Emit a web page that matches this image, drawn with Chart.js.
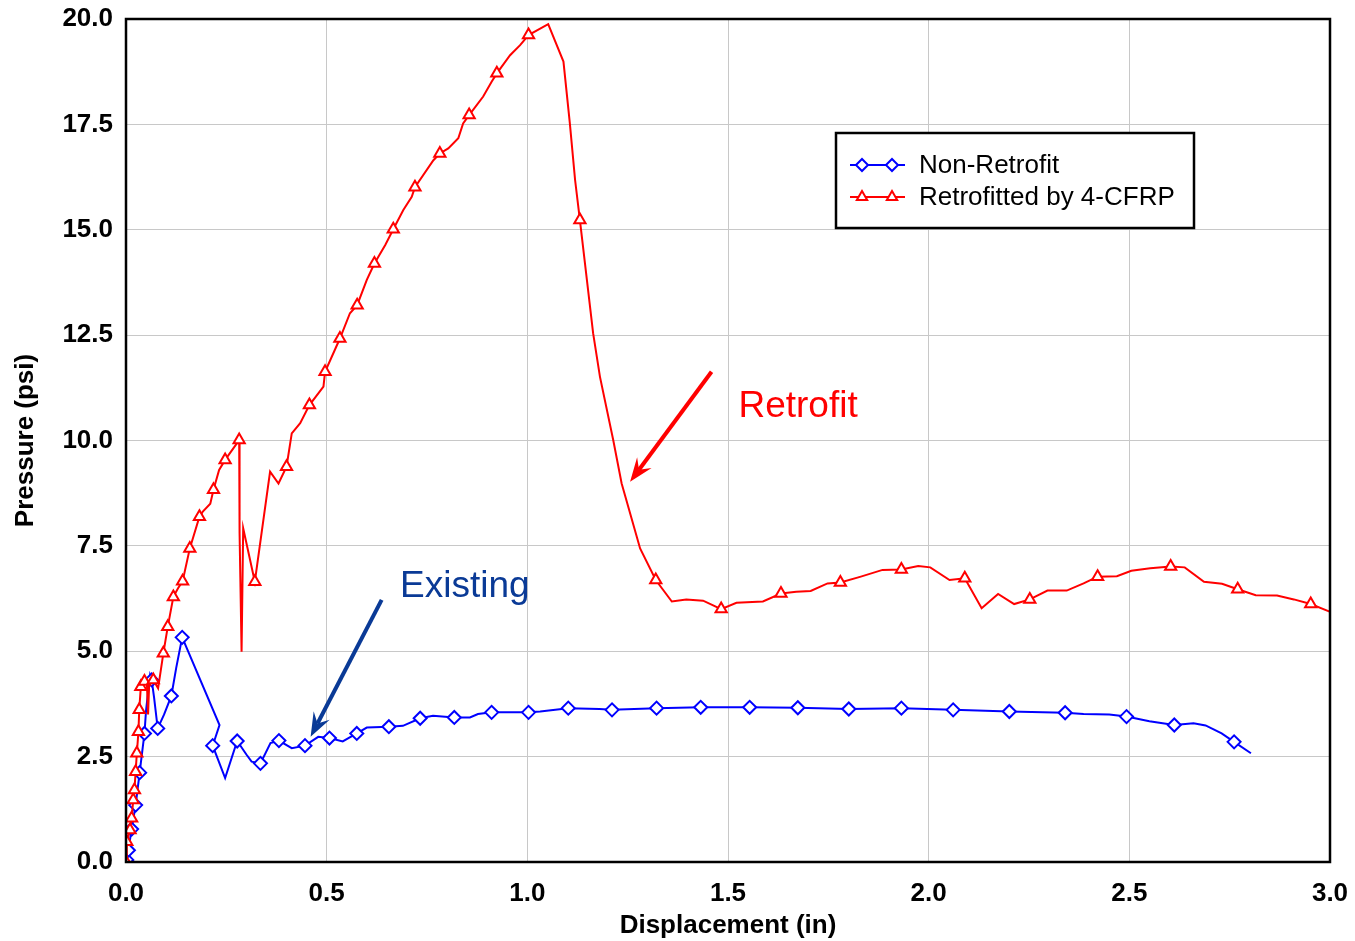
<!DOCTYPE html>
<html>
<head>
<meta charset="utf-8">
<script src="https://cdn.jsdelivr.net/npm/chart.js@4.4.1/dist/chart.umd.min.js"></script>
<style>
  html, body { margin: 0; padding: 0; background: #fff; }
  #wrap { width: 1355px; height: 941px; }
</style>
</head>
<body>
<div id="wrap"><canvas id="chart" width="1355" height="941"></canvas></div>
<script>
// Data
const seriesNames = ['Non-Retrofit', 'Retrofitted by 4-CFRP'];

// Non-Retrofit curve (displacement in, pressure psi)
const nonRetroX = [0.000, 0.002, 0.006, 0.014, 0.024, 0.034, 0.046, 0.050, 0.056, 0.060, 0.064, 0.070, 0.079, 0.095, 0.113, 0.125, 0.140,
  0.233, 0.216, 0.247, 0.277, 0.300, 0.313, 0.335, 0.360, 0.381, 0.413, 0.446, 0.479, 0.507, 0.540, 0.575, 0.600, 0.655, 0.690,
  0.733, 0.765, 0.818, 0.857, 0.877, 0.911, 1.003, 1.032, 1.102, 1.180, 1.211, 1.322, 1.432, 1.554, 1.674, 1.801, 1.932, 2.061,
  2.201, 2.340, 2.386, 2.450, 2.493, 2.550, 2.612, 2.660, 2.690, 2.730, 2.761, 2.803];
const nonRetroY = [0.00, 0.05, 0.28, 0.78, 1.35, 2.12, 3.05, 3.60, 4.10, 4.43, 4.32, 3.90, 3.17, 3.50, 3.94, 4.60, 5.33,
  3.25, 2.76, 1.99, 2.87, 2.55, 2.38, 2.34, 2.82, 2.88, 2.70, 2.76, 2.97, 2.94, 2.86, 3.05, 3.19, 3.21, 3.23,
  3.41, 3.47, 3.43, 3.43, 3.51, 3.55, 3.55, 3.57, 3.65, 3.63, 3.61, 3.65, 3.67, 3.67, 3.66, 3.63, 3.65, 3.61,
  3.57, 3.54, 3.51, 3.50, 3.45, 3.34, 3.25, 3.29, 3.24, 3.05, 2.85, 2.58];
// Non-Retrofit marker points
const nonRetroMarkX = [0.002, 0.006, 0.014, 0.024, 0.034, 0.046, 0.064, 0.079, 0.113, 0.140, 0.216, 0.277, 0.335, 0.381, 0.446,
  0.507, 0.575, 0.655, 0.733, 0.818, 0.911, 1.003, 1.102, 1.211, 1.322, 1.432, 1.554, 1.674, 1.801, 1.932, 2.061, 2.201, 2.340,
  2.493, 2.612, 2.761];
const nonRetroMarkY = [0.05, 0.28, 0.78, 1.35, 2.12, 3.05, 4.32, 3.17, 3.94, 5.33, 2.76, 2.87, 2.34, 2.88, 2.76,
  2.94, 3.05, 3.21, 3.41, 3.43, 3.55, 3.55, 3.65, 3.61, 3.65, 3.67, 3.67, 3.66, 3.63, 3.65, 3.61, 3.57, 3.54,
  3.45, 3.25, 2.85];

// Retrofitted curve
const retroX = [0.000, 0.002, 0.010, 0.014, 0.018, 0.021, 0.024, 0.027, 0.031, 0.033, 0.037, 0.046, 0.052, 0.055, 0.058, 0.068,
  0.080, 0.093, 0.104, 0.118, 0.130, 0.141, 0.159, 0.183, 0.192, 0.210, 0.218, 0.232, 0.247, 0.282, 0.283, 0.288, 0.290, 0.292,
  0.321, 0.359, 0.380, 0.400, 0.413, 0.434, 0.457, 0.492, 0.496, 0.533, 0.558, 0.576, 0.600, 0.619, 0.646, 0.666, 0.691, 0.712,
  0.720, 0.766, 0.782, 0.803, 0.828, 0.840, 0.855, 0.890, 0.911, 0.924, 0.957, 0.982, 1.003, 1.052, 1.090, 1.106, 1.119, 1.131,
  1.164, 1.181, 1.214, 1.235, 1.281, 1.320, 1.360, 1.396, 1.438, 1.483, 1.521, 1.587, 1.632, 1.670, 1.706, 1.748, 1.780, 1.831,
  1.885, 1.932, 1.974, 2.004, 2.052, 2.090, 2.132, 2.173, 2.213, 2.252, 2.296, 2.344, 2.386, 2.421, 2.469, 2.505, 2.552, 2.603,
  2.638, 2.686, 2.731, 2.770, 2.815, 2.868, 2.910, 2.952, 2.999];
const retroY = [0.00, 0.48, 0.76, 1.04, 1.47, 1.71, 2.14, 2.58, 3.09, 3.61, 4.16, 4.28, 4.25, 3.50, 4.30, 4.32,
  4.12, 4.95, 5.58, 6.29, 6.50, 6.66, 7.44, 8.19, 8.32, 8.50, 8.83, 9.30, 9.54, 10.01, 7.80, 4.99, 6.45, 7.92,
  6.65, 9.26, 8.98, 9.38, 10.17, 10.41, 10.84, 11.28, 11.63, 12.42, 13.02, 13.21, 13.81, 14.20, 14.64, 15.01, 15.47, 15.78,
  16.01, 16.65, 16.81, 16.93, 17.17, 17.52, 17.72, 18.16, 18.51, 18.71, 19.14, 19.38, 19.62, 19.88, 18.99, 17.52, 16.18, 15.23,
  12.54, 11.51, 10.01, 8.98, 7.44, 6.69, 6.18, 6.23, 6.20, 6.00, 6.15, 6.18, 6.37, 6.41, 6.43, 6.61, 6.63, 6.77,
  6.93, 6.94, 7.02, 6.99, 6.69, 6.73, 6.02, 6.36, 6.12, 6.23, 6.44, 6.44, 6.61, 6.77, 6.78, 6.91, 6.97, 7.01,
  6.99, 6.65, 6.60, 6.47, 6.33, 6.32, 6.23, 6.12, 5.94];
// Retrofitted marker points
const retroMarkX = [0.000, 0.002, 0.010, 0.014, 0.018, 0.021, 0.024, 0.027, 0.031, 0.033, 0.037, 0.046, 0.068, 0.093, 0.104,
  0.118, 0.141, 0.159, 0.183, 0.218, 0.247, 0.282, 0.321, 0.400, 0.457, 0.496, 0.533, 0.576, 0.619, 0.666, 0.720, 0.782, 0.855,
  0.924, 1.003, 1.131, 1.320, 1.483, 1.632, 1.780, 1.932, 2.090, 2.252, 2.421, 2.603, 2.770, 2.952];
const retroMarkY = [0.00, 0.48, 0.76, 1.04, 1.47, 1.71, 2.14, 2.58, 3.09, 3.61, 4.16, 4.28, 4.32, 4.95, 5.58,
  6.29, 6.66, 7.44, 8.19, 8.83, 9.54, 10.01, 6.65, 9.38, 10.84, 11.63, 12.42, 13.21, 14.20, 15.01, 16.01, 16.81, 17.72,
  18.71, 19.62, 15.23, 6.69, 6.00, 6.37, 6.63, 6.94, 6.73, 6.23, 6.77, 7.01, 6.47, 6.12];

// Callouts: text anchor and arrow (tail -> tip) in data units
const noteText = ['Retrofit', 'Existing'];
const noteX = [1.526, 0.683];
const noteY = [10.55, 6.29];
const arrowFromX = [1.459, 0.637];
const arrowFromY = [11.63, 6.22];
const arrowToX = [1.256, 0.460];
const arrowToY = [9.02, 2.97];

// Axis ticks
const xMin = 0, xMax = 3.0, xStep = 0.5;
const yMin = 0, yMax = 20.0, yStep = 2.5;

const BLUE = '#0000ff';
const RED = '#ff0000';
const noteColors = [RED, '#0a3a96'];

function pts(xs, ys) {
    return xs.map((x, i) => ({ x: x, y: ys[i] }));
}

// keep axis labels from pushing the plot area around
function noScalePadding(scale) {
    scale.paddingTop = 0;
    scale.paddingBottom = 0;
    scale.paddingLeft = 0;
    scale.paddingRight = 0;
}

// Frame round the plot area
const framePlugin = {
    id: 'frame',
    afterDraw(chart) {
        const { ctx, chartArea: a } = chart;
        ctx.save();
        ctx.strokeStyle = '#000';
        ctx.lineWidth = 2.5;
        ctx.strokeRect(a.left, a.top, a.right - a.left, a.bottom - a.top);
        ctx.restore();
    }
};

function drawArrow(ctx, x1, y1, x2, y2, color) {
    const ang = Math.atan2(y2 - y1, x2 - x1);
    const cos = Math.cos(ang), sin = Math.sin(ang);
    const headLen = 24, headW = 9, notch = 15;
    ctx.save();
    ctx.strokeStyle = color;
    ctx.fillStyle = color;
    ctx.lineWidth = 4;
    ctx.beginPath();
    ctx.moveTo(x1, y1);
    ctx.lineTo(x2 - cos * notch, y2 - sin * notch);
    ctx.stroke();
    ctx.beginPath();
    ctx.moveTo(x2, y2);
    ctx.lineTo(x2 - cos * headLen - sin * headW, y2 - sin * headLen + cos * headW);
    ctx.lineTo(x2 - cos * notch, y2 - sin * notch);
    ctx.lineTo(x2 - cos * headLen + sin * headW, y2 - sin * headLen - cos * headW);
    ctx.closePath();
    ctx.fill();
    ctx.restore();
}

// Callout text and arrows
const notesPlugin = {
    id: 'notes',
    afterDatasetsDraw(chart) {
        const { ctx, scales: { x, y } } = chart;
        noteText.forEach((t, i) => {
            drawArrow(ctx, x.getPixelForValue(arrowFromX[i]), y.getPixelForValue(arrowFromY[i]),
                x.getPixelForValue(arrowToX[i]), y.getPixelForValue(arrowToY[i]), noteColors[i]);
            ctx.save();
            ctx.font = '37px "Liberation Sans", Arial, sans-serif';
            ctx.fillStyle = noteColors[i];
            ctx.textAlign = 'left';
            ctx.textBaseline = 'alphabetic';
            ctx.fillText(t, x.getPixelForValue(noteX[i]), y.getPixelForValue(noteY[i]));
            ctx.restore();
        });
    }
};

// Boxed legend with line + two markers per entry
const legendPlugin = {
    id: 'boxLegend',
    afterDraw(chart) {
        const ctx = chart.ctx;
        const left = 836, top = 133, w = 358, h = 95;
        ctx.save();
        ctx.fillStyle = '#fff';
        ctx.fillRect(left, top, w, h);
        ctx.strokeStyle = '#000';
        ctx.lineWidth = 2.5;
        ctx.strokeRect(left, top, w, h);
        const styles = [
            { color: BLUE, pointStyle: 'rectRot', radius: 6 },
            { color: RED, pointStyle: 'triangle', radius: 6 }
        ];
        seriesNames.forEach((name, i) => {
            const cy = top + 32 + i * 32;
            const s = styles[i];
            ctx.strokeStyle = s.color;
            ctx.lineWidth = 2;
            ctx.beginPath();
            ctx.moveTo(left + 14, cy);
            ctx.lineTo(left + 69, cy);
            ctx.stroke();
            [left + 26, left + 56].forEach(px => {
                ctx.fillStyle = '#fff';
                ctx.strokeStyle = s.color;
                ctx.lineWidth = 2;
                Chart.helpers.drawPoint(ctx, { pointStyle: s.pointStyle, radius: s.radius, rotation: 0, borderWidth: 2 }, px, cy);
            });
            ctx.fillStyle = '#000';
            ctx.font = '26px "Liberation Sans", Arial, sans-serif';
            ctx.textAlign = 'left';
            ctx.textBaseline = 'middle';
            ctx.fillText(name, left + 83, cy + 1);
        });
        ctx.restore();
    }
};

const tickFont = { family: '"Liberation Sans", Arial, sans-serif', size: 26, weight: 'bold' };

new Chart(document.getElementById('chart'), {
    type: 'scatter',
    data: {
        datasets: [
            {
                label: seriesNames[1] + ' markers',
                data: pts(retroMarkX, retroMarkY),
                showLine: false,
                pointStyle: 'triangle',
                pointRadius: 6.5,
                pointBorderWidth: 2,
                pointBorderColor: RED,
                pointBackgroundColor: '#fff',
                order: 1
            },
            {
                label: seriesNames[1],
                data: pts(retroX, retroY),
                showLine: true,
                borderColor: RED,
                borderWidth: 2,
                pointRadius: 0,
                tension: 0,
                order: 2
            },
            {
                label: seriesNames[0] + ' markers',
                data: pts(nonRetroMarkX, nonRetroMarkY),
                showLine: false,
                pointStyle: 'rectRot',
                pointRadius: 6.5,
                pointBorderWidth: 2,
                pointBorderColor: BLUE,
                pointBackgroundColor: '#fff',
                order: 3
            },
            {
                label: seriesNames[0],
                data: pts(nonRetroX, nonRetroY),
                showLine: true,
                borderColor: BLUE,
                borderWidth: 2,
                pointRadius: 0,
                tension: 0,
                order: 4
            }
        ]
    },
    options: {
        responsive: false,
        animation: false,
        devicePixelRatio: 1,
        layout: { padding: { top: 19, right: 25, left: 0, bottom: 0 } },
        plugins: {
            legend: { display: false },
            tooltip: { enabled: false }
        },
        scales: {
            x: {
                type: 'linear',
                min: xMin,
                max: xMax,
                afterFit: (scale) => { scale.height = 79; noScalePadding(scale); },
                ticks: {
                    stepSize: xStep,
                    callback: (v) => v.toFixed(1),
                    color: '#000',
                    font: tickFont,
                    padding: 16,
                    maxRotation: 0
                },
                grid: { color: '#c8c8c8', lineWidth: 1, drawTicks: false },
                border: { display: false },
                title: {
                    display: true,
                    text: 'Displacement (in)',
                    color: '#000',
                    font: tickFont,
                    padding: { top: 0, bottom: 0 }
                }
            },
            y: {
                type: 'linear',
                min: yMin,
                max: yMax,
                afterFit: (scale) => { scale.width = 126; noScalePadding(scale); },
                ticks: {
                    stepSize: yStep,
                    callback: (v) => v.toFixed(1),
                    color: '#000',
                    font: tickFont,
                    padding: 13
                },
                grid: { color: '#c8c8c8', lineWidth: 1, drawTicks: false },
                border: { display: false },
                title: {
                    display: true,
                    text: 'Pressure (psi)',
                    color: '#000',
                    font: tickFont,
                    padding: { top: 10, bottom: 0 }
                }
            }
        }
    },
    plugins: [framePlugin, notesPlugin, legendPlugin]
});
</script>
</body>
</html>
